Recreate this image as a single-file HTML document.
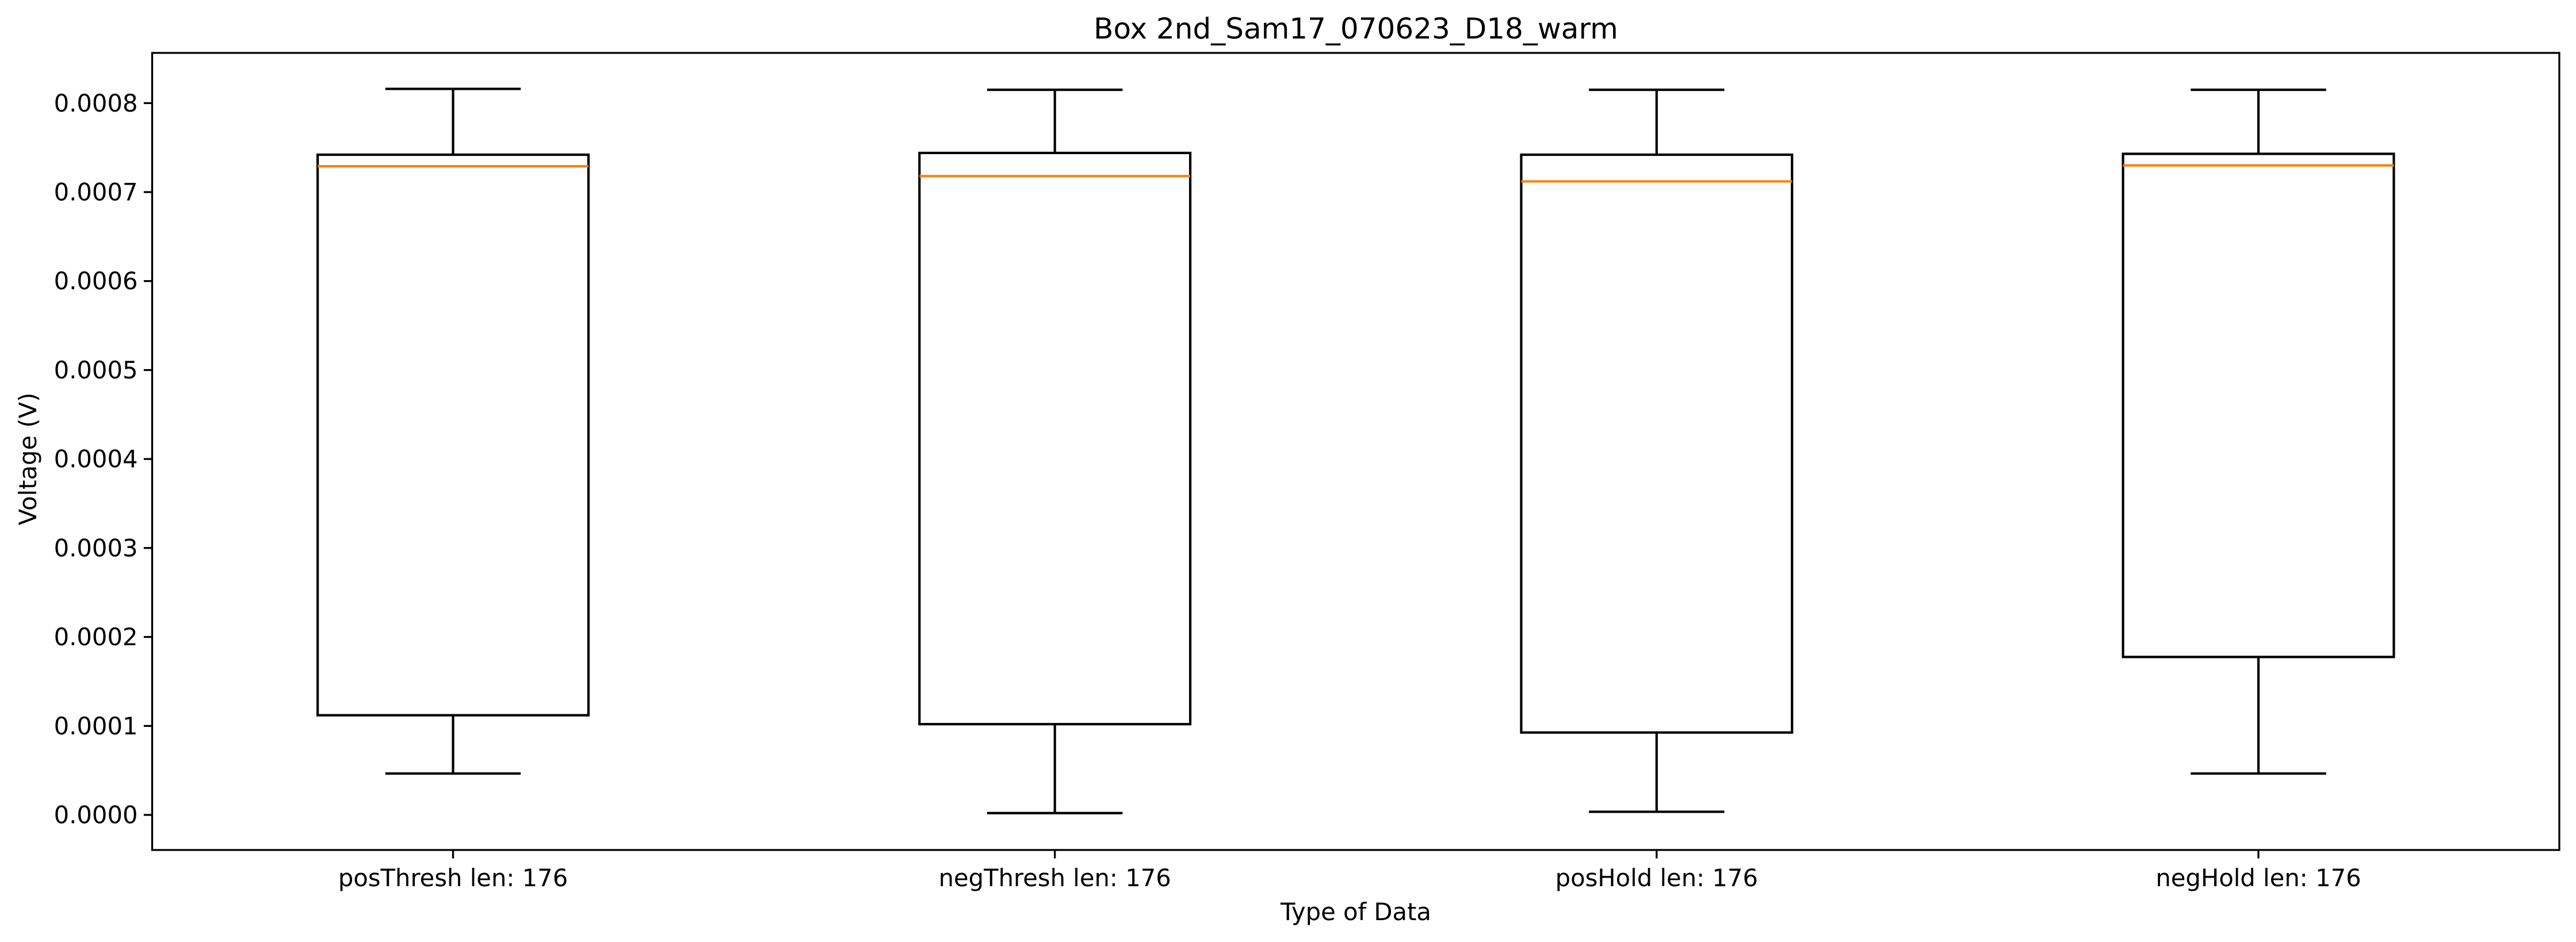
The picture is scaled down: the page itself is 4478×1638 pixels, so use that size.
<!DOCTYPE html>
<html><head><meta charset="utf-8"><style>
html,body{margin:0;padding:0;background:#fff;}
svg{display:block;font-family:"DejaVu Sans","Liberation Sans",sans-serif;}
</style></head><body>
<svg id="chart" width="4478" height="1638" viewBox="0 0 4478 1638" xmlns="http://www.w3.org/2000/svg">
<rect width="4478" height="1638" fill="#fff"/>
<text x="2357" y="67" font-size="50" text-anchor="middle">Box 2nd_Sam17_070623_D18_warm</text>
<text x="2357" y="1600" font-size="41.7" text-anchor="middle">Type of Data</text>
<text x="0" y="0" font-size="41.7" text-anchor="middle" transform="translate(63,798) rotate(-90)">Voltage (V)</text>
<g id="marks"></g>
<rect x="264.5" y="92" width="4184.5" height="1386" fill="none" stroke="#000" stroke-width="3.3"/>
</svg>
<script>
const categories = ["posThresh len: 176","negThresh len: 176","posHold len: 176","negHold len: 176"];
const whiskerLow = [0.0000465,0.000002,0.0000035,0.0000465];
const q1 = [0.000112,0.000102,0.0000926,0.0001775];
const median = [0.000729,0.000718,0.000712,0.00073];
const q3 = [0.000742,0.000744,0.000742,0.000743];
const whiskerHigh = [0.000816,0.000815,0.000815,0.000815];
const yTicks = [0,0.0001,0.0002,0.0003,0.0004,0.0005,0.0006,0.0007,0.0008];
const yTickLabels = ["0.0000","0.0001","0.0002","0.0003","0.0004","0.0005","0.0006","0.0007","0.0008"];

const L=264.5,R=4449,T=92,B=1478;
const y0px=1417, perUnit=(1417-179.3)/0.0008;
function y(v){return y0px - v*perUnit;}
function x(i){return L + (i+0.5)*(R-L)/categories.length;}
const bw=0.5*(R-L)/categories.length*0.9, cw=bw/2;
const NS="http://www.w3.org/2000/svg";
const g=document.getElementById('marks');
function mk(tag,attrs){const e=document.createElementNS(NS,tag);for(const k in attrs)e.setAttribute(k,attrs[k]);g.appendChild(e);return e;}

yTicks.forEach((v,i)=>{
  const t=mk('line',{x1:L-14.6,x2:L,y1:y(v),y2:y(v),stroke:'#000','stroke-width':3.3});
  
  
  const tx=mk('text',{x:L-25,y:y(v)+14.5,'font-size':41.7,'text-anchor':'end'});
  tx.textContent=yTickLabels[i];
  
  
});
categories.forEach((c,i)=>{
  const cx=x(i);
  const t=mk('line',{x1:cx,x2:cx,y1:B,y2:B+14.6,stroke:'#000','stroke-width':3.3});
  
  
  const tx=mk('text',{x:cx,y:B+63,'font-size':41.7,'text-anchor':'middle'});
  tx.textContent=c;
  
  
  const s={stroke:'#000','stroke-width':4.2,fill:'none'};
  const w1=mk('line',Object.assign({x1:cx,x2:cx,y1:y(q1[i]),y2:y(whiskerLow[i])},s));
  
  
  const w2=mk('line',Object.assign({x1:cx,x2:cx,y1:y(q3[i]),y2:y(whiskerHigh[i])},s));
  
  
  const c1=mk('line',Object.assign({x1:cx-cw/2,x2:cx+cw/2,y1:y(whiskerLow[i]),y2:y(whiskerLow[i])},s));
  
  
  const c2=mk('line',Object.assign({x1:cx-cw/2,x2:cx+cw/2,y1:y(whiskerHigh[i]),y2:y(whiskerHigh[i])},s));
  
  
  const b=mk('rect',Object.assign({x:cx-bw/2,width:bw,y:y(q3[i]),height:y(q1[i])-y(q3[i])},s));
  
  
  const m=mk('line',{x1:cx-bw/2,x2:cx+bw/2,y1:y(median[i]),y2:y(median[i]),stroke:'#ff7f0e','stroke-width':4.2});
  
  
});
</script>
</body></html>
